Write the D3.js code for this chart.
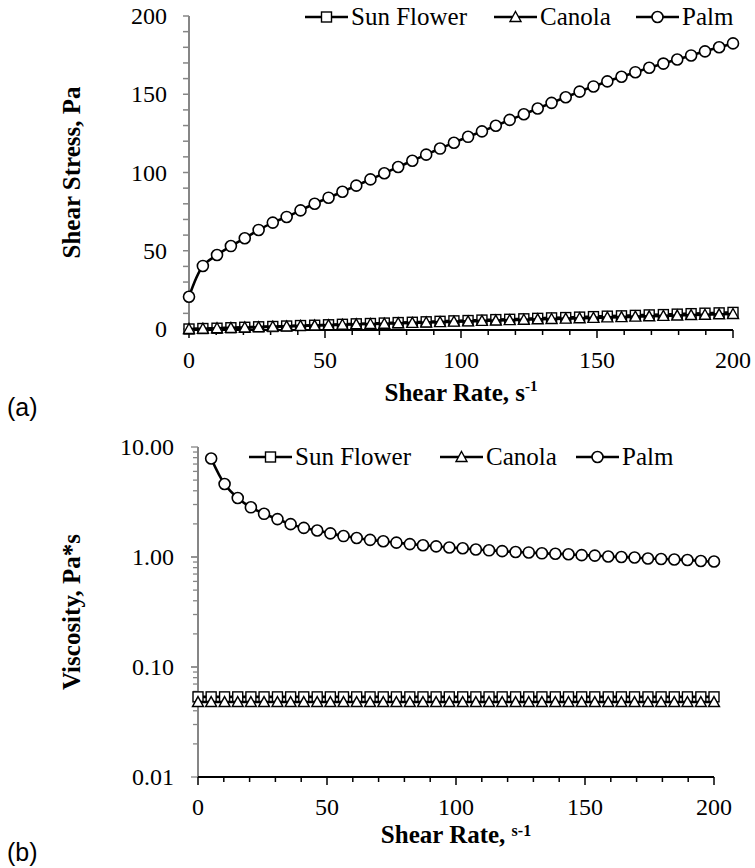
<!DOCTYPE html>
<html><head><meta charset="utf-8">
<script src="https://cdn.jsdelivr.net/npm/d3@7"></script>
<style>body{margin:0;background:#fff}</style>
</head><body><svg id="c" width="755" height="868" xmlns="http://www.w3.org/2000/svg"></svg>
<script>
// ---------- data ----------
const shearRate = [0, 5.1, 10.3, 15.4, 20.5, 25.6, 30.8, 35.9, 41.0, 46.2, 51.3, 56.4, 61.5, 66.7, 71.8, 76.9, 82.1, 87.2, 92.3, 97.4,
  102.6, 107.7, 112.8, 117.9, 123.1, 128.2, 133.3, 138.5, 143.6, 148.7, 153.8, 159.0, 164.1, 169.2, 174.4, 179.5, 184.6, 189.7, 194.9, 200];
const stressSunFlower = [0, 0.3, 0.5, 0.8, 1.1, 1.4, 1.6, 1.9, 2.2, 2.4, 2.7, 3.0, 3.3, 3.5, 3.8, 4.1, 4.3, 4.6, 4.9, 5.2,
  5.4, 5.7, 6.0, 6.2, 6.5, 6.8, 7.1, 7.3, 7.6, 7.9, 8.2, 8.4, 8.7, 9.0, 9.2, 9.5, 9.8, 10.1, 10.3, 10.6];
const stressCanola = [0, 0.2, 0.5, 0.7, 1.0, 1.2, 1.5, 1.7, 2.0, 2.2, 2.5, 2.7, 3.0, 3.2, 3.4, 3.7, 3.9, 4.2, 4.4, 4.7,
  4.9, 5.2, 5.4, 5.7, 5.9, 6.2, 6.4, 6.6, 6.9, 7.1, 7.4, 7.6, 7.9, 8.1, 8.4, 8.6, 8.9, 9.1, 9.4, 9.6];
const stressPalm = [20.6, 40.3, 47.3, 53.0, 58.0, 63.3, 68.0, 71.6, 75.8, 80.0, 83.9, 87.7, 91.6, 95.6, 99.5, 103.5, 107.5, 111.4, 115.3, 119.0,
  122.8, 126.3, 129.9, 133.6, 137.2, 140.9, 144.5, 148.1, 151.7, 155.0, 158.2, 161.2, 164.1, 166.9, 169.6, 172.2, 174.8, 177.4, 180.0, 182.5];
const viscSunFlower = [0.0535, 0.0535, 0.0535, 0.0535, 0.0535, 0.0535, 0.0535, 0.0535, 0.0535, 0.0535, 0.0535, 0.0535, 0.0535, 0.0535, 0.0535, 0.0535, 0.0535, 0.0535, 0.0535, 0.0535,
  0.0535, 0.0535, 0.0535, 0.0535, 0.0535, 0.0535, 0.0535, 0.0535, 0.0535, 0.0535, 0.0535, 0.0535, 0.0535, 0.0535, 0.0535, 0.0535, 0.0535, 0.0535, 0.0535, 0.0535];
const viscCanola = [0.048, 0.048, 0.048, 0.048, 0.048, 0.048, 0.048, 0.048, 0.048, 0.048, 0.048, 0.048, 0.048, 0.048, 0.048, 0.048, 0.048, 0.048, 0.048, 0.048,
  0.048, 0.048, 0.048, 0.048, 0.048, 0.048, 0.048, 0.048, 0.048, 0.048, 0.048, 0.048, 0.048, 0.048, 0.048, 0.048, 0.048, 0.048, 0.048, 0.048];
const viscPalm = [null, 7.86, 4.61, 3.44, 2.83, 2.47, 2.21, 1.99, 1.84, 1.74, 1.64, 1.55, 1.49, 1.43, 1.39, 1.35, 1.31, 1.28, 1.25, 1.22,
  1.20, 1.17, 1.15, 1.13, 1.11, 1.10, 1.08, 1.07, 1.06, 1.04, 1.03, 1.01, 1.00, 0.99, 0.97, 0.96, 0.95, 0.94, 0.92, 0.91];
const seriesNames = ["Sun Flower", "Canola", "Palm"];
const markerTypes = ["square", "triangle", "circle"];
const xTicks = [0, 50, 100, 150, 200];
const stressTicks = [0, 50, 100, 150, 200];
const viscTicks = [0.01, 0.1, 1, 10];
const viscTickLabels = ["0.01", "0.10", "1.00", "10.00"];

// ---------- drawing ----------
const svg = d3.select("#c");
const SERIF = "Liberation Serif, Times New Roman, serif";
const GRAY = "#868686";

function marker(g, type, x, y) {
  if (type === "square") {
    g.append("rect").attr("x", x - 5).attr("y", y - 5).attr("width", 10).attr("height", 10)
      .attr("fill", "#fff").attr("stroke", "#000").attr("stroke-width", 1.4);
  } else if (type === "triangle") {
    g.append("path").attr("d", `M${x},${y - 5.5}L${x + 5.5},${y + 4.5}L${x - 5.5},${y + 4.5}Z`)
      .attr("fill", "#fff").attr("stroke", "#000").attr("stroke-width", 1.4);
  } else {
    g.append("circle").attr("cx", x).attr("cy", y).attr("r", 5.5)
      .attr("fill", "#fff").attr("stroke", "#000").attr("stroke-width", 1.6);
  }
}

function drawSeries(g, x, y, xs, ys, type, smooth) {
  const pts = xs.map((v, i) => [v, ys[i]]).filter(d => d[1] != null);
  const line = d3.line().x(d => x(d[0])).y(d => y(d[1]))
    .curve(smooth ? d3.curveCatmullRom.alpha(0.5) : d3.curveLinear);
  g.append("path").attr("d", line(pts)).attr("fill", "none").attr("stroke", "#000").attr("stroke-width", 2.6);
  const mg = g.append("g");
  pts.forEach(d => marker(mg, type, x(d[0]), y(d[1])));
}

function legend(g, items, cy) {
  items.forEach(it => {
    g.append("line").attr("x1", it.x).attr("x2", it.x + 43).attr("y1", cy).attr("y2", cy)
      .attr("stroke", "#000").attr("stroke-width", 2.6);
    marker(g, it.type, it.x + 21.5, cy);
    g.append("text").attr("x", it.x + 46).attr("y", cy + 8).attr("font-family", SERIF)
      .attr("font-size", 25).text(it.name);
  });
}

function xAxis(g, x, yPos, labelBaseline) {
  const minor = d3.range(0, 201, 10);
  g.append("line").attr("x1", x(0)).attr("x2", x(200)).attr("y1", yPos).attr("y2", yPos)
    .attr("stroke", "#000").attr("stroke-width", 2);
  minor.forEach(v => {
    const major = v % 50 === 0;
    g.append("line").attr("x1", x(v)).attr("x2", x(v)).attr("y1", yPos).attr("y2", yPos + (major ? 8 : 5))
      .attr("stroke", "#000").attr("stroke-width", 1.5);
  });
  xTicks.forEach(v => {
    g.append("text").attr("x", x(v)).attr("y", labelBaseline).attr("text-anchor", "middle")
      .attr("font-family", SERIF).attr("font-size", 24).text(v);
  });
}

// ===== Panel (a) =====
{
  const L = 189, R = 733, T = 16, B = 329;
  const x = d3.scaleLinear().domain([0, 200]).range([L, R]);
  const y = d3.scaleLinear().domain([0, 200]).range([B, T]);
  const g = svg.append("g");
  g.append("line").attr("x1", L).attr("x2", L).attr("y1", T).attr("y2", B).attr("stroke", GRAY).attr("stroke-width", 2);
  d3.range(0, 201, 10).forEach(v => {
    g.append("line").attr("x1", L - 6).attr("x2", L).attr("y1", y(v)).attr("y2", y(v)).attr("stroke", GRAY).attr("stroke-width", 1.5);
  });
  stressTicks.forEach(v => {
    g.append("text").attr("x", L - 22).attr("y", y(v) + 8).attr("text-anchor", "end")
      .attr("font-family", SERIF).attr("font-size", 24).text(v);
  });
  xAxis(g, x, B + 1, 368);
  drawSeries(g, x, y, shearRate, stressSunFlower, markerTypes[0], false);
  drawSeries(g, x, y, shearRate, stressCanola, markerTypes[1], false);
  drawSeries(g, x, y, shearRate, stressPalm, markerTypes[2], true);
  legend(g, [
    {x: 305, type: markerTypes[0], name: seriesNames[0]},
    {x: 494, type: markerTypes[1], name: seriesNames[1]},
    {x: 636, type: markerTypes[2], name: seriesNames[2]}], 17);
  g.append("text").attr("transform", `translate(80,${(T + B) / 2}) rotate(-90)`).attr("text-anchor", "middle")
    .attr("font-family", SERIF).attr("font-size", 25).attr("font-weight", "bold").text("Shear Stress, Pa");
  const t = g.append("text").attr("x", (L + R) / 2).attr("y", 401).attr("text-anchor", "middle")
    .attr("font-family", SERIF).attr("font-size", 25).attr("font-weight", "bold");
  t.append("tspan").text("Shear Rate, s");
  t.append("tspan").attr("font-size", 15).attr("dy", -10).text("-1");
  g.append("text").attr("x", 7).attr("y", 416).attr("font-family", "Liberation Sans, Arial, sans-serif")
    .attr("font-size", 25).text("(a)");
}

// ===== Panel (b) =====
{
  const L = 198, R = 714, T = 447, B = 777;
  const x = d3.scaleLinear().domain([0, 200]).range([L, R]);
  const y = d3.scaleLog().domain([0.01, 10]).range([B, T]);
  const g = svg.append("g");
  g.append("line").attr("x1", L).attr("x2", L).attr("y1", T).attr("y2", B).attr("stroke", GRAY).attr("stroke-width", 2);
  [0.01, 0.1, 1].forEach(dec => {
    for (let k = 1; k <= 10; k++) {
      const v = dec * k;
      const major = (k === 1 || k === 10);
      g.append("line").attr("x1", L - (major ? 7 : 5)).attr("x2", L).attr("y1", y(v)).attr("y2", y(v))
        .attr("stroke", GRAY).attr("stroke-width", 1.3);
    }
  });
  viscTicks.forEach((v, i) => {
    g.append("text").attr("x", L - 24).attr("y", y(v) + 8).attr("text-anchor", "end")
      .attr("font-family", SERIF).attr("font-size", 24).text(viscTickLabels[i]);
  });
  xAxis(g, x, B, 815);
  drawSeries(g, x, y, shearRate, viscSunFlower, markerTypes[0], false);
  drawSeries(g, x, y, shearRate, viscCanola, markerTypes[1], false);
  drawSeries(g, x, y, shearRate, viscPalm, markerTypes[2], true);
  legend(g, [
    {x: 249, type: markerTypes[0], name: seriesNames[0]},
    {x: 440, type: markerTypes[1], name: seriesNames[1]},
    {x: 576, type: markerTypes[2], name: seriesNames[2]}], 457);
  g.append("text").attr("transform", `translate(80,${(T + B) / 2}) rotate(-90)`).attr("text-anchor", "middle")
    .attr("font-family", SERIF).attr("font-size", 25).attr("font-weight", "bold").text("Viscosity, Pa*s");
  const t = g.append("text").attr("x", (L + R) / 2).attr("y", 843).attr("text-anchor", "middle")
    .attr("font-family", SERIF).attr("font-size", 25).attr("font-weight", "bold");
  t.append("tspan").text("Shear Rate, ");
  t.append("tspan").attr("font-size", 16).attr("dy", -7).text("s-1");
  g.append("text").attr("x", 7).attr("y", 861).attr("font-family", "Liberation Sans, Arial, sans-serif")
    .attr("font-size", 25).text("(b)");
}
</script>
</body></html>
